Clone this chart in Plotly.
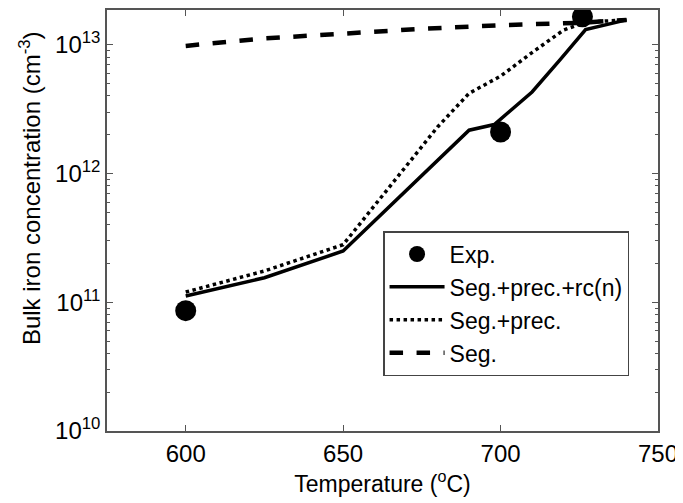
import plotly.graph_objects as go

# Experimental points
exp_T = [600, 700, 726]
exp_C = [8.6e10, 2.1e12, 1.65e13]

# Seg.+prec.+rc(n)
full_T = [600, 625, 650, 690, 698, 710, 719, 727, 740]
full_C = [1.12e11, 1.55e11, 2.5e11, 2.17e12, 2.4e12, 4.3e12, 7.7e12, 1.31e13, 1.56e13]

# Seg.+prec.
prec_T = [600, 625, 650, 680, 690, 700, 710, 720, 727, 740]
prec_C = [1.2e11, 1.75e11, 2.8e11, 2.3e12, 4.2e12, 5.7e12, 8.7e12, 1.3e13, 1.5e13, 1.56e13]

# Seg.
seg_T = [600, 625, 650, 675, 700, 725, 740]
seg_C = [9.8e12, 1.12e13, 1.22e13, 1.33e13, 1.42e13, 1.48e13, 1.56e13]

x_ticks = [600, 650, 700, 750]
y_ticks = [1e10, 1e11, 1e12, 1e13]
y_ticktext = ["10<sup>10</sup>", "10<sup>11</sup>", "10<sup>12</sup>", "10<sup>13</sup>"]

FONT = "Liberation Sans, Arial, sans-serif"
AXC = "#555555"

fig = go.Figure()
fig.add_trace(go.Scatter(x=exp_T, y=exp_C, mode="markers", name="Exp.",
                         marker=dict(color="black", size=21), cliponaxis=True))
fig.add_trace(go.Scatter(x=full_T, y=full_C, mode="lines", name="Seg.+prec.+rc(n)",
                         line=dict(color="black", width=3.5)))
fig.add_trace(go.Scatter(x=prec_T, y=prec_C, mode="lines", name="Seg.+prec.",
                         line=dict(color="black", width=3.5, dash="dot")))
fig.add_trace(go.Scatter(x=seg_T, y=seg_C, mode="lines", name="Seg.",
                         line=dict(color="black", width=4.5, dash="dash")))

axis_common = dict(showgrid=False, zeroline=False, showline=True, linecolor=AXC,
                   linewidth=1.5, mirror="ticks", ticks="inside", tickcolor=AXC,
                   tickfont=dict(family=FONT, size=24, color="black"))

fig.update_xaxes(range=[575, 750], tickvals=x_ticks, ticklen=6,
                 title=dict(text="Temperature (<sup>o</sup>C)", font=dict(family=FONT, size=23, color="black"),
                            standoff=10),
                 **axis_common)
fig.update_yaxes(type="log", range=[10, 13.27], tickvals=y_ticks, ticktext=y_ticktext, ticklen=6,
                 minor=dict(ticks="inside", ticklen=3, tickcolor=AXC, dtick="D1"),
                 **axis_common)

# y-axis title as annotation (placed above centre, as in the reference)
fig.add_annotation(text="Bulk iron concentration (cm<sup>-3</sup>)", xref="paper", yref="paper",
                   x=-0.1397, y=0.577, xanchor="center", yanchor="middle", textangle=-90,
                   showarrow=False, font=dict(family=FONT, size=24, color="black"))

# page body has an 8px margin, so the figure is sized and offset to fit the 683x503 window
fig.update_layout(
    width=675, height=495,
    margin=dict(l=99, r=25, t=0, b=72),
    plot_bgcolor="white", paper_bgcolor="white",
    showlegend=True,
    legend=dict(x=0.501, y=0.475, xanchor="left", yanchor="top",
                bgcolor="white", bordercolor="#444444", borderwidth=1.5,
                font=dict(family=FONT, size=23, color="black"),
                itemwidth=55, tracegroupgap=0),
)

fig.write_html("out.html")
